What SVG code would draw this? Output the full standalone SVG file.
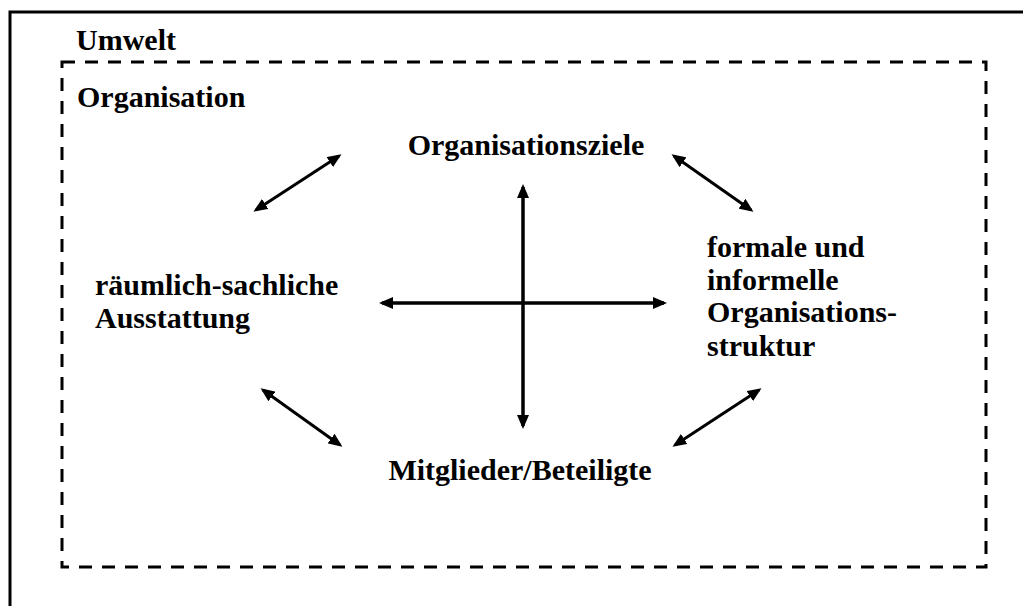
<svg xmlns="http://www.w3.org/2000/svg" width="1023" height="606" viewBox="0 0 1023 606">
  <style>
    .label { font-family: "Liberation Serif", "Times New Roman", serif; font-weight: bold; font-size: 30px; fill: #000; }
    .frame { fill: none; stroke: #000; stroke-width: 3; }
    .dash { fill: none; stroke: #000; stroke-width: 3; stroke-dasharray: 13 10; }
    .link { fill: none; stroke: #000; stroke-width: 3.5; marker-start: url(#head); marker-end: url(#head); }
    .diag { stroke-width: 3; }
  </style>
  <defs>
    <marker id="head" viewBox="0 0 14 12" refX="11" refY="6" markerWidth="14" markerHeight="12" markerUnits="userSpaceOnUse" orient="auto-start-reverse">
      <path d="M0,0 L14,6 L0,12 z" fill="#000"/>
    </marker>
  </defs>
  <rect width="1023" height="606" fill="#fff"/>

  <!-- environment frame -->
  <g id="umwelt">
    <path class="frame" d="M10,606 V12 H1023"/>
    <text class="label" x="76" y="50">Umwelt</text>
  </g>

  <!-- organisation boundary -->
  <g id="organisation">
    <path class="dash" d="M62,62 H986 V567 H62 Z"/>
    <text class="label" x="77" y="107">Organisation</text>
  </g>

  <g id="ziele">
    <text class="label" x="526" y="155" text-anchor="middle">Organisationsziele</text>
  </g>

  <g id="ausstattung">
    <text class="label" x="95" y="295">räumlich-sachliche</text>
    <text class="label" x="95" y="328">Ausstattung</text>
  </g>

  <g id="struktur">
    <text class="label" x="707" y="257">formale und</text>
    <text class="label" x="707" y="290">informelle</text>
    <text class="label" x="707" y="322">Organisations-</text>
    <text class="label" x="707" y="356">struktur</text>
  </g>

  <g id="mitglieder">
    <text class="label" x="520" y="480" text-anchor="middle">Mitglieder/Beteiligte</text>
  </g>

  <!-- relations between the four elements -->
  <g id="connectors">
    <line class="link" x1="523" y1="187" x2="523" y2="426"/>
    <line class="link" x1="382" y1="303" x2="664" y2="303"/>
    <line class="link diag" x1="339" y1="156" x2="256" y2="210"/>
    <line class="link diag" x1="674" y1="156" x2="751" y2="210"/>
    <line class="link diag" x1="263" y1="390" x2="340" y2="445"/>
    <line class="link diag" x1="759" y1="390" x2="675" y2="445"/>
  </g>
</svg>
